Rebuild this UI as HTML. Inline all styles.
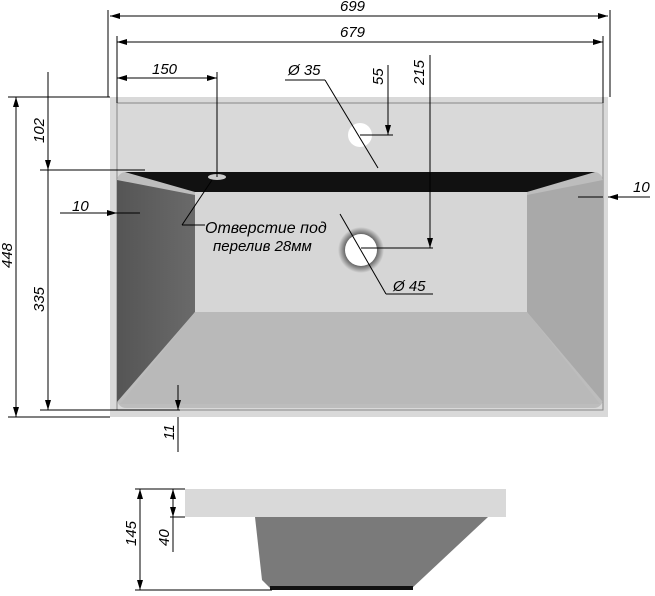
<!DOCTYPE html>
<html><head><meta charset="utf-8"><style>
html,body{margin:0;padding:0;background:#fff}
svg{display:block}
text{font-family:"Liberation Sans",sans-serif;font-style:italic;font-size:15px;fill:#000}
</style></head><body>
<svg width="655" height="596" viewBox="0 0 655 596" xmlns="http://www.w3.org/2000/svg">
<defs>
<marker id="a" viewBox="0 0 10 6" refX="10" refY="3" markerWidth="10" markerHeight="6" orient="auto-start-reverse" markerUnits="userSpaceOnUse"><path d="M0,0L10,3L0,6z" fill="#000"/></marker>
<radialGradient id="dr"><stop offset="0.6" stop-color="#444"/><stop offset="1" stop-color="#d6d6d6"/></radialGradient>
<linearGradient id="lw" x1="0" x2="1"><stop offset="0" stop-color="#555"/><stop offset="1" stop-color="#6a6a6a"/></linearGradient>
</defs>
<rect x="110" y="97" width="498" height="320" fill="#d9d9d9"/>
<rect x="117" y="103" width="486" height="307" fill="none" stroke="#888" stroke-width="1"/>
<rect x="117" y="172" width="486" height="236" rx="9" fill="#bdbdbd"/>
<polygon points="125,172 595,172 527,192 195,192" fill="#111"/>
<polygon points="117,180 195,195 195,312 117,402" fill="url(#lw)"/>
<polygon points="527,195 603,180 603,402 527,312" fill="#a9a9a9"/>
<polygon points="195,312 527,312 600,404 120,404" fill="#b9b9b9"/>
<rect x="195" y="192" width="332" height="120" fill="#d6d6d6"/>
<ellipse cx="217" cy="177" rx="9" ry="3" fill="#ccc"/>
<circle cx="360" cy="135" r="12" fill="#fff"/>
<circle cx="361" cy="250" r="23" fill="url(#dr)"/>
<circle cx="361" cy="250" r="16" fill="#fff"/>
<rect x="185" y="489" width="321" height="28" fill="#d9d9d9"/>
<polygon points="255,517 488,517 410,590 272,590 262,580" fill="#7a7a7a"/>
<rect x="270" y="586" width="143" height="4" fill="#111"/>
<g stroke="#000" stroke-width="1" fill="none">
<line x1="108" y1="10" x2="108" y2="97"/><line x1="610" y1="10" x2="610" y2="97"/>
<line x1="110" y1="16" x2="608" y2="16" marker-start="url(#a)" marker-end="url(#a)"/>
<line x1="117" y1="36" x2="117" y2="103"/><line x1="603" y1="36" x2="603" y2="103"/>
<line x1="117" y1="42" x2="603" y2="42" marker-start="url(#a)" marker-end="url(#a)"/>
<line x1="217" y1="72" x2="217" y2="177"/>
<line x1="117" y1="78" x2="217" y2="78" marker-start="url(#a)" marker-end="url(#a)"/>
<line x1="285" y1="80" x2="325" y2="80"/><line x1="325" y1="80" x2="378" y2="168"/>
<line x1="388" y1="65" x2="388" y2="135" marker-end="url(#a)"/><line x1="360" y1="135" x2="393" y2="135"/>
<line x1="430" y1="55" x2="430" y2="248" marker-end="url(#a)"/><line x1="361" y1="248" x2="433" y2="248"/>
<line x1="340" y1="214" x2="386" y2="294"/><line x1="386" y1="294" x2="433" y2="294"/>
<line x1="8" y1="97" x2="110" y2="97"/>
<line x1="16" y1="97" x2="16" y2="417" marker-start="url(#a)" marker-end="url(#a)"/>
<line x1="8" y1="417" x2="110" y2="417"/>
<line x1="48" y1="72" x2="48" y2="170" marker-end="url(#a)"/>
<line x1="40" y1="170" x2="145" y2="170"/>
<line x1="48" y1="170" x2="48" y2="410" marker-end="url(#a)"/>
<line x1="40" y1="410" x2="180" y2="410"/>
<line x1="60" y1="213" x2="117" y2="213" marker-end="url(#a)"/><line x1="117" y1="213" x2="140" y2="213"/>
<line x1="650" y1="197" x2="608" y2="197" marker-end="url(#a)"/><line x1="578" y1="197" x2="603" y2="197"/>
<line x1="178" y1="385" x2="178" y2="410" marker-end="url(#a)"/><line x1="178" y1="417" x2="178" y2="452"/>
<line x1="212" y1="180" x2="182" y2="225"/><line x1="182" y1="225" x2="205" y2="225"/>
<line x1="135" y1="489" x2="185" y2="489"/>
<line x1="135" y1="590" x2="272" y2="590"/>
<line x1="170" y1="517" x2="185" y2="517"/>
<line x1="140" y1="489" x2="140" y2="590" marker-start="url(#a)" marker-end="url(#a)"/>
<line x1="173" y1="489" x2="173" y2="517" marker-start="url(#a)" marker-end="url(#a)"/>
<line x1="173" y1="517" x2="173" y2="552"/>
</g>
<g>
<text x="340" y="11">699</text>
<text x="340" y="37">679</text>
<text x="152" y="74">150</text>
<text x="288" y="75">Ø 35</text>
<text x="383" y="85" transform="rotate(-90 383 85)">55</text>
<text x="424" y="85" transform="rotate(-90 424 85)">215</text>
<text x="205" y="233" style="font-size:16px">Отверстие под</text>
<text x="213" y="251" style="font-size:15px">перелив 28мм</text>
<text x="393" y="291">Ø 45</text>
<text x="44" y="143" transform="rotate(-90 44 143)">102</text>
<text x="44" y="312" transform="rotate(-90 44 312)">335</text>
<text x="12" y="268" transform="rotate(-90 12 268)">448</text>
<text x="72" y="211">10</text>
<text x="633" y="192">10</text>
<text x="174" y="440" transform="rotate(-90 174 440)">11</text>
<text x="136" y="546" transform="rotate(-90 136 546)">145</text>
<text x="169" y="546" transform="rotate(-90 169 546)">40</text>
</g>
</svg>
</body></html>
